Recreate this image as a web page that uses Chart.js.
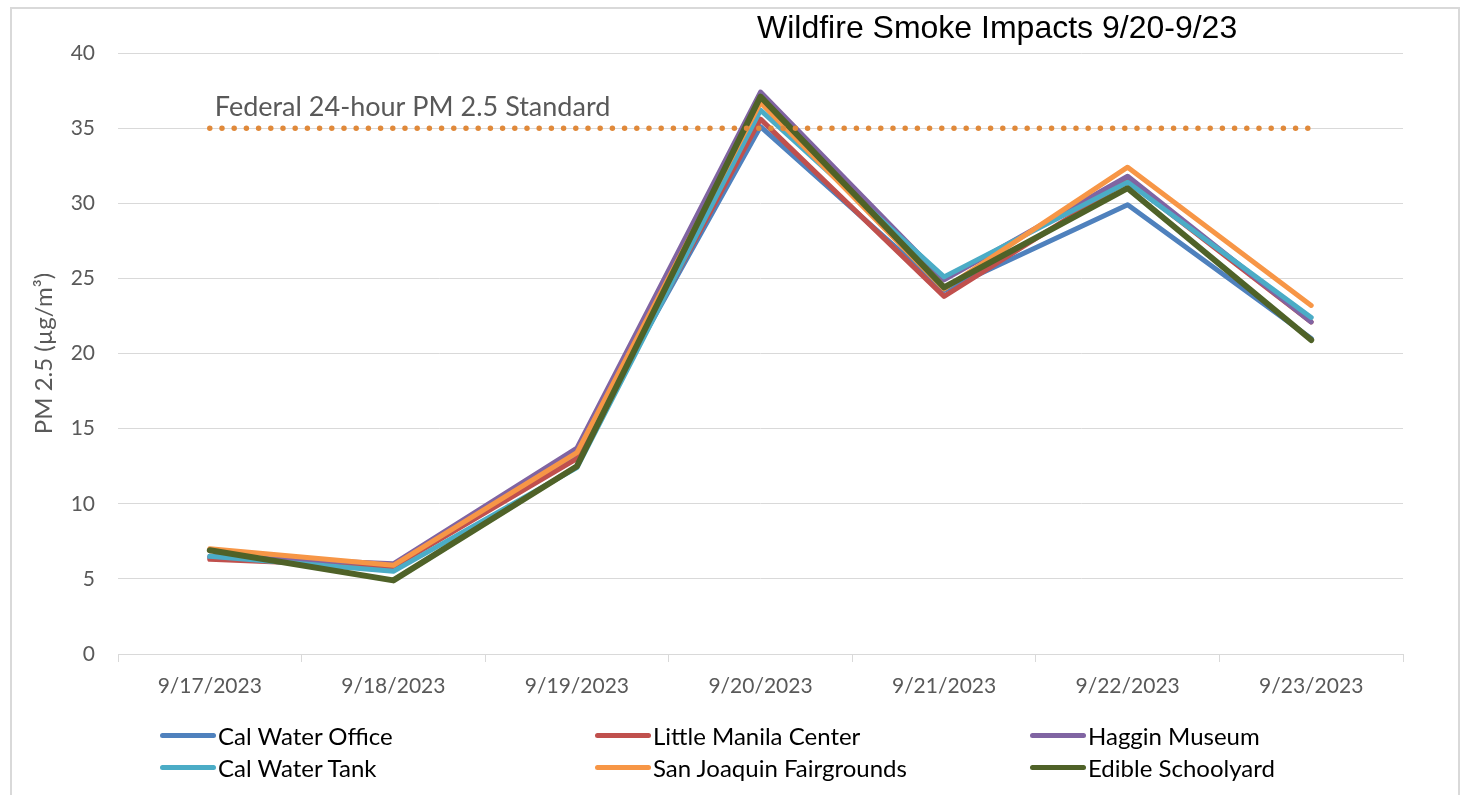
<!DOCTYPE html>
<html>
<head>
<meta charset="utf-8">
<script src="https://cdn.jsdelivr.net/npm/chart.js@4.4.1/dist/chart.umd.min.js"></script>
<style>
  html, body { margin: 0; padding: 0; background: #fff; overflow: hidden; }
  #wrap { position: relative; width: 1465px; height: 795px; }
  #frame { position: absolute; left: 10px; top: 7px; right: 5px; bottom: -10px; border: 2px solid #d9d9d9; }
  #title { position: absolute; left: 757px; top: 9px; font: 32px "Liberation Sans", Arial, sans-serif; color: #000; white-space: nowrap; }
  canvas { position: absolute; left: 0; top: 0; }
  .leg { position: absolute; display: flex; align-items: center; font: 24px Lato, sans-serif; color: #000; white-space: nowrap; }
  .leg span.sw { display: inline-block; width: 56px; height: 5px; border-radius: 3px; margin-right: 2px; }
</style>
</head>
<body>
<div id="wrap">
  <div id="frame"></div>
  <canvas id="c" width="1465" height="795"></canvas>
  <div id="title">Wildfire Smoke Impacts 9/20-9/23</div>
  <div id="legend"></div>
</div>
<script>
const dates = ['9/17/2023','9/18/2023','9/19/2023','9/20/2023','9/21/2023','9/22/2023','9/23/2023'];
const seriesNames = ['Cal Water Office','Little Manila Center','Haggin Museum','Cal Water Tank','San Joaquin Fairgrounds','Edible Schoolyard'];
const calWaterOffice = [6.4, 5.9, 13.2, 35.1, 24.2, 29.9, 21.0];
const littleManila   = [6.3, 5.8, 13.0, 35.6, 23.8, 31.5, 22.1];
const hagginMuseum   = [6.5, 6.0, 13.7, 37.4, 24.9, 31.8, 22.1];
const calWaterTank   = [6.5, 5.5, 12.4, 36.2, 25.1, 31.4, 22.4];
const sjFairgrounds  = [7.0, 5.9, 13.4, 36.7, 24.3, 32.4, 23.2];
const edibleSchool   = [6.9, 4.9, 12.5, 37.1, 24.4, 31.0, 20.9];
const federalStandard = [35, 35, 35, 35, 35, 35, 35];
const standardLabel = 'Federal 24-hour PM 2.5 Standard';
const yTicks = [0, 5, 10, 15, 20, 25, 30, 35, 40];

const seriesValues = [calWaterOffice, littleManila, hagginMuseum, calWaterTank, sjFairgrounds, edibleSchool];
const colors = ['#4F81BD','#C0504D','#8064A2','#4BACC6','#F79646','#4F6228'];
const widths = [5, 5, 5, 5, 5, 6];

const datasets = seriesValues.map((vals, i) => ({
  label: seriesNames[i],
  data: vals,
  borderColor: colors[i],
  backgroundColor: colors[i],
  borderWidth: widths[i],
  pointRadius: 0,
  tension: 0,
  fill: false,
  borderJoinStyle: 'round',
  borderCapStyle: 'round',
  order: seriesValues.length - i
}));
datasets.push({
  label: 'Standard',
  data: federalStandard,
  borderColor: '#E0893A',
  borderWidth: 5.5,
  borderDash: [0, 12.2],
  borderCapStyle: 'round',
  pointRadius: 0,
  fill: false,
  order: -1
});

const standardLabelPlugin = {
  id: 'stdLabel',
  afterDatasetsDraw(chart) {
    const {ctx, scales: {x, y}} = chart;
    ctx.save();
    ctx.font = '27px Lato, sans-serif';
    ctx.fillStyle = '#595959';
    ctx.textBaseline = 'alphabetic';
    ctx.fillText(standardLabel, x.getPixelForValue(0) + 5, y.getPixelForValue(federalStandard[0]) - 12);
    ctx.restore();
  }
};

new Chart(document.getElementById('c'), {
  type: 'line',
  data: { labels: dates, datasets },
  options: {
    responsive: false,
    animation: false,
    devicePixelRatio: 1,
    layout: { padding: { left: 0, right: 62, top: 53, bottom: 0 } },
    plugins: { legend: { display: false }, title: { display: false }, tooltip: { enabled: false } },
    scales: {
      x: {
        offset: true,
        grid: { display: true, offset: true, drawOnChartArea: false, drawTicks: true, tickLength: 8, color: '#d9d9d9' },
        border: { display: true, color: '#d9d9d9', width: 1 },
        ticks: { font: { family: 'Lato', size: 21 }, color: '#595959', padding: 12, maxRotation: 0 },
        afterFit(s) { s.height = 141; }
      },
      y: {
        min: 0, max: 40,
        afterBuildTicks(s) { s.ticks = yTicks.map(v => ({ value: v })); },
        grid: { color: '#d9d9d9', drawTicks: false, lineWidth: 1 },
        border: { display: false },
        ticks: { font: { family: 'Lato', size: 21 }, color: '#595959', padding: 23 },
        title: { display: true, text: 'PM 2.5 (µg/m³)', font: { family: 'Lato', size: 24 }, color: '#595959', padding: { top: 30, bottom: 0 } },
        afterFit(s) { s.width = 118; }
      }
    }
  },
  plugins: [standardLabelPlugin]
});

const legendPos = [[160,736],[595,736],[1030,736],[160,768],[595,768],[1030,768]];
const legEl = document.getElementById('legend');
seriesNames.forEach((name, i) => {
  const d = document.createElement('div');
  d.className = 'leg';
  d.style.left = legendPos[i][0] + 'px';
  d.style.top = (legendPos[i][1] - 15) + 'px';
  d.innerHTML = '<span class="sw" style="background:' + colors[i] + '"></span>' + name;
  legEl.appendChild(d);
});
</script>
</body>
</html>
